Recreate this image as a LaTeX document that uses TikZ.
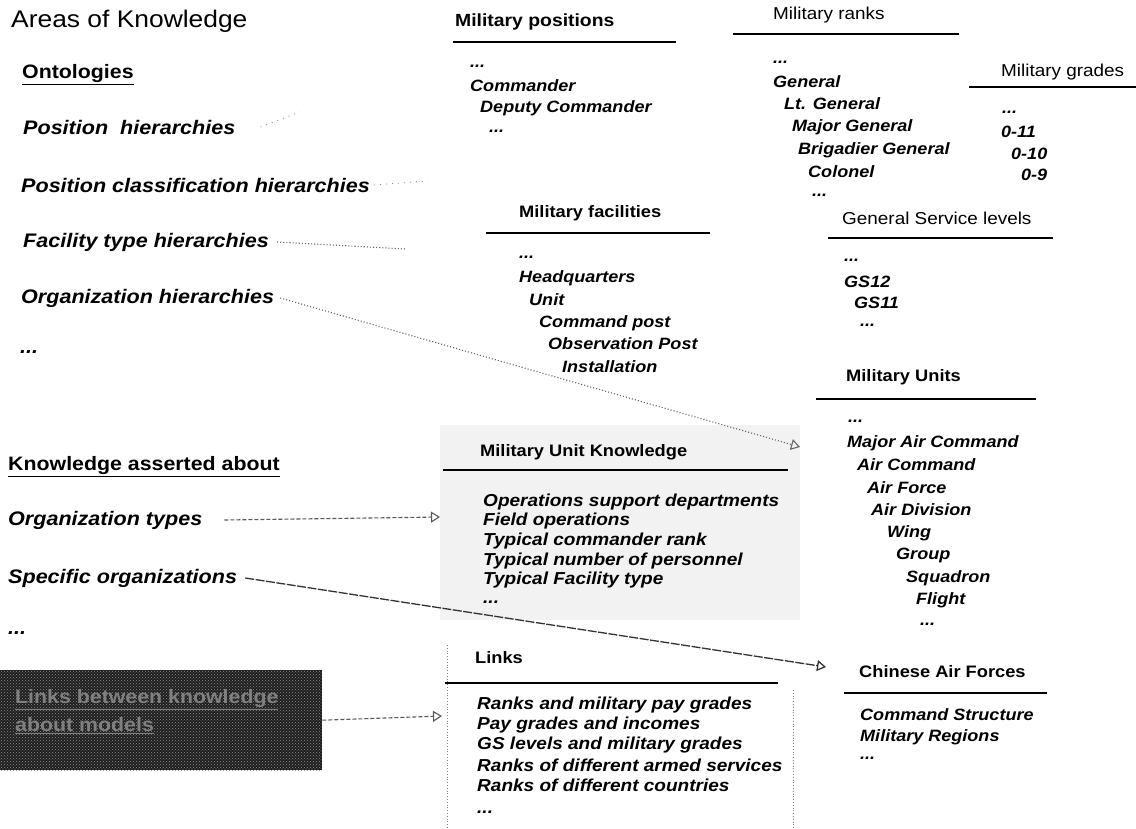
\documentclass[tikz,border=0pt]{standalone}
\usepackage{fontspec}
\setmainfont{Liberation Sans}[FakeStretch=1.1]
\usetikzlibrary{arrows.meta,patterns}
\tikzset{
  lbl/.style={anchor=west, inner sep=0pt, font=\fontsize{19.6}{22}\selectfont\bfseries\itshape},
  hdl/.style={anchor=west, inner sep=0pt, font=\fontsize{19.4}{22}\selectfont\bfseries},
  hd/.style={anchor=west, inner sep=0pt, font=\fontsize{17.2}{20}\selectfont},
  hdb/.style={anchor=west, inner sep=0pt, font=\fontsize{16.6}{20}\selectfont\bfseries},
  itm/.style={anchor=west, inner sep=0pt, font=\fontsize{16.4}{19}\selectfont\bfseries\itshape},
  itmw/.style={anchor=west, inner sep=0pt, font=\fontsize{17.3}{19}\selectfont\bfseries\itshape},
  rulel/.style={line width=1.6pt},
  link/.style={black!60, line width=1.1pt, dotted},
  dlink/.style={black!65, line width=1.1pt, dash pattern=on 4pt off 2pt},
  slink/.style={black!80, line width=1.3pt, dash pattern=on 9pt off 1.5pt},
  faint/.style={black!45, line width=0.8pt, dash pattern=on 1pt off 5pt},
  tip/.style={-{Triangle[open,length=9pt,width=11pt]}},
}
\begin{document}
\begin{tikzpicture}[x=1pt,y=-1pt]
\useasboundingbox (0,0) rectangle (1136,829);
% backgrounds
\fill[black!5] (440,425) rectangle (800,620);
\node[fill=black!88, anchor=north west, inner sep=0pt, minimum width=322pt, minimum height=100pt] (linkbox) at (0,670) {};
\fill[pattern=crosshatch dots, pattern color=black!45] (0,670) rectangle (322,770);
\draw[black!50, line width=0.8pt, dotted] (447,645) -- (447,829);
\draw[black!50, line width=0.8pt, dotted] (793,690) -- (793,829);

% left column
\node[anchor=west, inner sep=0pt, font=\fontsize{24}{28}\selectfont] (title) at (11,21) {Areas of Knowledge};
\node[hdl] (onto) at (22,75) {\underline{Ontologies}};
\node[lbl] (posh) at (23,127) {Position\ \ hierarchies};
\node[lbl] (posc) at (21,185) {Position classification hierarchies};
\node[lbl] (fach) at (23,242) {Facility type hierarchies};
\node[lbl] (orgh) at (21,298) {Organization hierarchies};
\node[lbl] (ldots1) at (20,352) {...};
\node[hdl] (kab) at (8,467) {\underline{Knowledge asserted about}};
\node[lbl] (orgt) at (8,520) {Organization types};
\node[lbl] (spec) at (8,578) {Specific organizations};
\node[lbl] (ldots2) at (8,633) {...};
\node[hdl, text=black!50] (lk1) at (15,700) {\underline{Links between knowledge}};
\node[hdl, text=black!50] (lk2) at (15,726) {\underline{about models}};

% Military positions
\node[hdb, font=\fontsize{17.6}{20}\selectfont\bfseries] (mpos) at (455,22) {Military positions};
\draw[rulel] (453,42) -- (676,42);
\node[itm] (p0) at (470,66) {...};
\node[itm] (p1) at (470,86) {Commander};
\node[itm] (p2) at (480,108) {Deputy Commander};
\node[itm] (p3) at (489,131) {...};

% Military ranks
\node[hd] (mrank) at (773,15) {Military ranks};
\draw[rulel] (733,34) -- (959,34);
\node[itm] (r0) at (773,62) {...};
\node[itm] (r1) at (773,82) {General};
\node[itm] (r2) at (784,104) {Lt. General};
\node[itm] (r3) at (792,127) {Major General};
\node[itm] (r4) at (798,150) {Brigadier General};
\node[itm] (r5) at (808,172) {Colonel};
\node[itm] (r6) at (812,195) {...};

% Military grades
\node[hd] (mgrade) at (1001,72) {Military grades};
\draw[rulel] (969,87) -- (1136,87);
\node[itm] (g0) at (1002,112) {...};
\node[itm] (g1) at (1001,132) {0-11};
\node[itm] (g2) at (1011,154) {0-10};
\node[itm] (g3) at (1021,175) {0-9};

% Military facilities
\node[hdb] (mfac) at (519,213) {Military facilities};
\draw[rulel] (486,233) -- (710,233);
\node[itm] (f0) at (519,257) {...};
\node[itm] (f1) at (519,278) {Headquarters};
\node[itm] (f2) at (529,300) {Unit};
\node[itm] (f3) at (539,323) {Command post};
\node[itm] (f4) at (548,344) {Observation Post};
\node[itm] (f5) at (562,367) {Installation};

% General Service levels
\node[hd] (gsl) at (842,218) {General Service levels};
\draw[rulel] (828,238) -- (1053,238);
\node[itm] (s0) at (844,260) {...};
\node[itm] (s1) at (844,282) {GS12};
\node[itm] (s2) at (854,303) {GS11};
\node[itm] (s3) at (860,325) {...};

% Military Units
\node[hdb] (munits) at (846,377) {Military Units};
\draw[rulel] (816,399) -- (1036,399);
\node[itm] (u0) at (848,421) {...};
\node[itm] (u1) at (847,443) {Major Air Command};
\node[itm] (u2) at (857,465) {Air Command};
\node[itm] (u3) at (867,488) {Air Force};
\node[itm] (u4) at (871,510) {Air Division};
\node[itm] (u5) at (887,533) {Wing};
\node[itm] (u6) at (896,555) {Group};
\node[itm] (u7) at (906,578) {Squadron};
\node[itm] (u8) at (916,600) {Flight};
\node[itm] (u9) at (920,624) {...};

% Chinese Air Forces
\node[hdb] (caf) at (859,672) {Chinese Air Forces};
\draw[rulel] (844,693) -- (1047,693);
\node[itm] (c1) at (860,715) {Command Structure};
\node[itm] (c2) at (860,737) {Military Regions};
\node[itm] (c3) at (860,758) {...};

% Military Unit Knowledge
\node[hdb] (muk) at (480,452) {Military Unit Knowledge};
\draw[rulel] (443,470) -- (788,470);
\node[itmw] (k1) at (483,502) {Operations support departments};
\node[itmw] (k2) at (483,521) {Field operations};
\node[itmw] (k3) at (483,541) {Typical commander rank};
\node[itmw] (k4) at (483,561) {Typical number of personnel};
\node[itmw] (k5) at (483,580) {Typical Facility type};
\node[itmw] (k6) at (483,602) {...};

% Links
\node[hdb] (links) at (475,658) {Links};
\draw[rulel] (445,683) -- (778,683);
\node[itmw] (l1) at (477,705) {Ranks and military pay grades};
\node[itmw] (l2) at (477,725) {Pay grades and incomes};
\node[itmw] (l3) at (477,745) {GS levels and military grades};
\node[itmw] (l4) at (477,765) {Ranks of different armed services};
\node[itmw] (l5) at (477,785) {Ranks of different countries};
\node[itmw] (l6) at (477,812) {...};

% connectors
\coordinate (e1) at (800,447);
\coordinate (e2) at (440,517);
\coordinate (e3) at (826,667);
\coordinate (e4) at (442,716);
\coordinate (e5) at (405,249);
\coordinate (e6) at (300,112);
\coordinate (e7) at (428,181);
\draw[link, tip] ([xshift=6pt]orgh.east) -- (e1);
\draw[dlink, tip] ([xshift=22pt]orgt.east) -- (e2);
\draw[slink, tip] ([xshift=8pt]spec.east) -- (e3);
\draw[dlink, tip] (linkbox.east) -- (e4);
\draw[link] ([xshift=8pt]fach.east) -- (e5);
\draw[faint] ([xshift=25pt]posh.east) -- (e6);
\draw[faint] ([xshift=4pt]posc.east) -- (e7);
\end{tikzpicture}
\end{document}
